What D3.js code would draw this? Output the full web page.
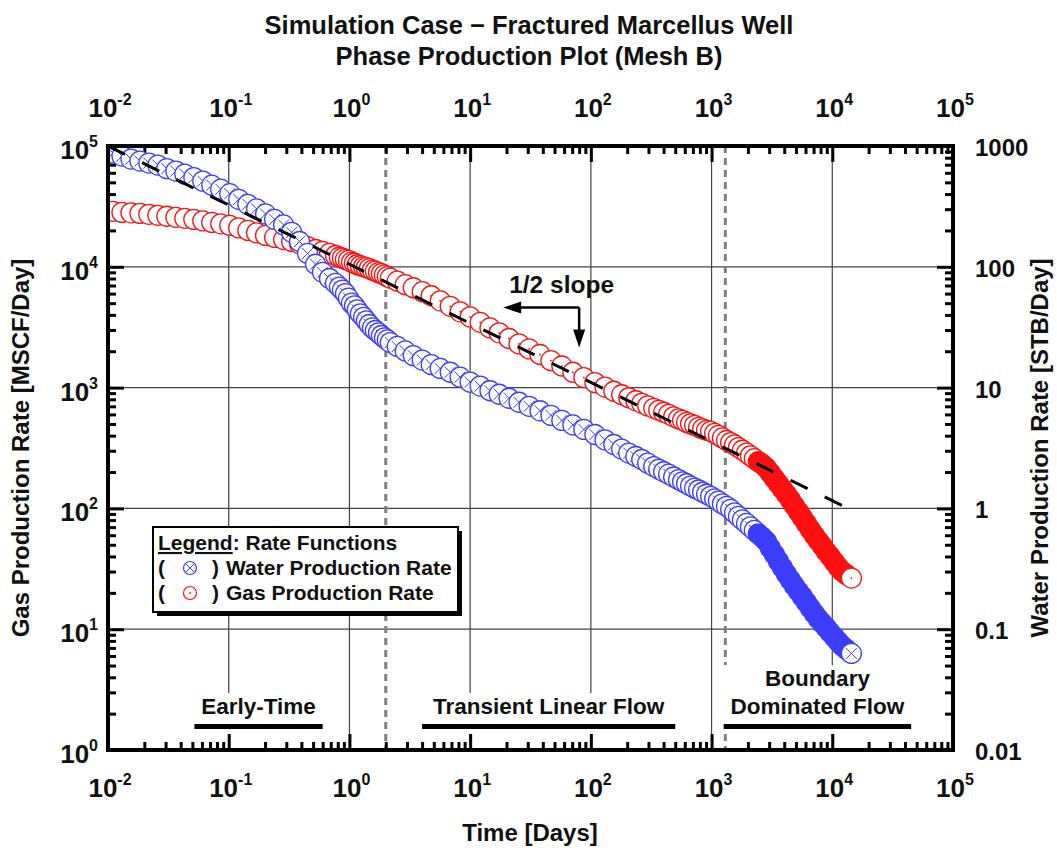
<!DOCTYPE html>
<html>
<head>
<meta charset="utf-8">
<script src="https://cdn.jsdelivr.net/npm/d3@7"></script>
<style>
body { margin:0; background:#fff; }
svg text { font-family: "Liberation Sans", Arial, sans-serif; font-weight: bold; fill:#111; }
.narrow { font-family: "Liberation Sans Narrow", "Arial Narrow", "Liberation Sans", sans-serif; }
</style>
</head>
<body>
<div id="chart"></div>
<script>

var titleLines = ["Simulation Case \u2212 Fractured Marcellus Well", "Phase Production Plot (Mesh B)"]

// time steps (days)
var timeDays = [0.0110, 0.01305, 0.0155, 0.0184, 0.0218, 0.0259, 0.0307, 0.0365, 0.0433, 0.0514, 0.0610, 0.0724, 0.0859, 0.102, 0.121, 0.144, 0.170, 0.202, 0.240, 0.285, 0.332, 0.386, 0.450, 0.524, 0.598, 0.684, 0.766,
	0.826, 0.875, 0.927, 0.982, 1.04, 1.10, 1.16, 1.23, 1.31, 1.38, 1.46, 1.55, 1.64, 1.74, 1.84, 1.95, 2.06, 2.18,
	2.49, 2.90, 3.38, 4.01, 4.76, 5.65, 6.84, 8.26, 10.0, 12.1, 14.6, 17.4, 21.0, 25.4, 30.8, 37.9, 46.7, 57.5, 71.0, 87.5,
	108, 131, 155, 180, 206, 236, 264, 296, 332, 365, 401, 441, 485, 533, 575, 621, 670, 724, 781, 843,
	910, 982, 1060, 1140, 1230, 1330, 1440, 1550, 1670, 1800, 1950, 2100, 2260, 2440, 2640, 2850, 3070, 3320, 3580, 3860,
	4170, 4500, 4850, 5240, 5650, 6100, 6580, 7100, 7660, 8260, 8910, 9620, 10400, 11200, 12100, 13100, 14400]

// gas rate, MSCF/Day (left axis)
var gasRate = [28800, 28200, 28000, 27700, 27200, 26700, 26200, 25700, 25200, 24700, 24000, 23300, 22700, 22000, 21000, 20000, 19100, 18200, 17500, 16800, 16200, 15500, 14700, 13900, 13400, 12900, 12400,
	12000, 11800, 11500, 11300, 10900, 10700, 10400, 10200, 10000, 9850, 9660, 9390, 9210, 8950, 8780, 8530, 8290, 8050,
	7600, 7110, 6710, 6220, 5760, 5230, 4710, 4240, 3850, 3470, 3120, 2840, 2550, 2300, 2090, 1880, 1670, 1510, 1340, 1210,
	1100, 1010, 933, 873, 824, 778, 741, 706, 674, 649, 625, 601, 573, 551, 536, 515, 501, 487, 469, 455,
	443, 434, 418, 402, 383, 365, 351, 335, 319, 303, 287, 272, 258, 244, 231, 216, 196, 177, 160, 145,
	131, 118, 105, 94, 84, 75, 67, 60, 54, 49, 44, 40, 36, 32.7, 30.0, 28.3, 26.5]

// water rate, STB/Day (right axis)
var waterRate = [875, 826, 780, 750, 722, 695, 650, 620, 585, 547, 512, 474, 439, 403, 362, 329, 302, 274, 247, 222, 193, 162, 129, 105, 90, 80, 73,
	68, 64, 60, 55, 50, 47.5, 44, 40.8, 38.2, 35.7, 33.3, 31.2, 29.7, 28.4, 27.0, 25.8, 24.8, 23.6,
	21.9, 20.1, 18.4, 16.9, 15.5, 14.4, 13.4, 12.2, 11.1, 10.3, 9.42, 8.81, 8.16, 7.56, 7.00, 6.43, 5.89, 5.35, 4.91, 4.51,
	4.09, 3.69, 3.38, 3.10, 2.87, 2.69, 2.54, 2.37, 2.22, 2.11, 2.01, 1.92, 1.82, 1.73, 1.66, 1.60, 1.53, 1.47, 1.42, 1.36,
	1.31, 1.26, 1.20, 1.15, 1.09, 1.04, 0.98, 0.918, 0.859, 0.803, 0.751, 0.703, 0.658, 0.615, 0.575, 0.532, 0.470, 0.415, 0.366, 0.324,
	0.286, 0.255, 0.229, 0.206, 0.186, 0.167, 0.150, 0.135, 0.122, 0.112, 0.103, 0.094, 0.086, 0.079, 0.0726, 0.0679, 0.0630]

var timeExp = [-2, -1, 0, 1, 2, 3, 4, 5]
var gasExp = [0, 1, 2, 3, 4, 5]
var waterTicks = [0.01, 0.1, 1, 10, 100, 1000]
var waterLabels = ["0.01", "0.1", "1", "10", "100", "1000"]

var halfSlope = [[0.01, 100000], [15000, 95]]
var regimeBounds = [2.0, 1300]
var regimes = [
	{name: ["Early-Time"], from: 0.052, to: 0.6},
	{name: ["Transient Linear Flow"], from: 4.0, to: 500},
	{name: ["Boundary", "Dominated Flow"], from: 1260, to: 45000}
]
var slopeNote = {text: "1/2 slope", t: 80, rate: 4600}
var legendTitle = "Legend"
var legendSub = ": Rate Functions"
var legendItems = ["Water Production Rate", "Gas Production Rate"]

var width = 1057, height = 851
var plotL = 108, plotR = 953, plotT = 146, plotB = 750
var RED = "#ff1010", BLUE = "#3d3dff"
var tailFrom = 2300   // markers overlap into a solid band here

var x = d3.scaleLog().domain([1e-2, 1e5]).range([plotL, plotR])
var yGas = d3.scaleLog().domain([1, 1e5]).range([plotB, plotT])
var yWater = d3.scaleLog().domain([0.01, 1000]).range([plotB, plotT])

var svg = d3.select("#chart").append("svg")
	.attr("width", width)
	.attr("height", height)

svg.append("defs").append("clipPath").attr("id", "plotclip")
	.append("rect").attr("x", plotL).attr("y", plotT)
	.attr("width", plotR - plotL).attr("height", plotB - plotT)

function decades(lo, hi) { return d3.range(lo, hi + 1).map(function(e) { return Math.pow(10, e) }) }
function minors(lo, hi) {
	var out = []
	for (var e = lo; e < hi; e++) for (var m = 2; m < 10; m++) out.push(m * Math.pow(10, e))
	return out
}

// grid
var grid = svg.append("g").attr("stroke", "#444").attr("stroke-width", 1.2)
grid.selectAll(".vg").data(decades(-1, 4)).enter().append("line")
	.attr("x1", function(d) { return x(d) }).attr("x2", function(d) { return x(d) })
	.attr("y1", plotT).attr("y2", plotB)
grid.selectAll(".hg").data(decades(1, 4)).enter().append("line")
	.attr("y1", function(d) { return yGas(d) }).attr("y2", function(d) { return yGas(d) })
	.attr("x1", plotL).attr("x2", plotR)

// flow regime boundaries
svg.append("g").selectAll("line").data(regimeBounds).enter().append("line")
	.attr("x1", function(d) { return x(d) }).attr("x2", function(d) { return x(d) })
	.attr("y1", plotT).attr("y2", plotB)
	.attr("stroke", "#808080").attr("stroke-width", 3).attr("stroke-dasharray", "7,5")

// ticks (inward on every side)
function styleAxis(g) {
	g.select(".domain").remove()
	g.selectAll(".tick line").attr("stroke", "#000").attr("stroke-width", 3)
	g.selectAll(".tick text").remove()
}
svg.append("g").attr("transform", "translate(0," + plotB + ")").call(d3.axisBottom(x).tickValues(decades(-2, 5)).tickSize(-16)).call(styleAxis)
svg.append("g").attr("transform", "translate(0," + plotB + ")").call(d3.axisBottom(x).tickValues(minors(-2, 5)).tickSize(-8)).call(styleAxis)
svg.append("g").attr("transform", "translate(0," + plotT + ")").call(d3.axisTop(x).tickValues(decades(-2, 5)).tickSize(-16)).call(styleAxis)
svg.append("g").attr("transform", "translate(0," + plotT + ")").call(d3.axisTop(x).tickValues(minors(-2, 5)).tickSize(-8)).call(styleAxis)
svg.append("g").attr("transform", "translate(" + plotL + ",0)").call(d3.axisLeft(yGas).tickValues(decades(0, 5)).tickSize(-16)).call(styleAxis)
svg.append("g").attr("transform", "translate(" + plotL + ",0)").call(d3.axisLeft(yGas).tickValues(minors(0, 5)).tickSize(-8)).call(styleAxis)
svg.append("g").attr("transform", "translate(" + plotR + ",0)").call(d3.axisRight(yWater).tickValues(waterTicks).tickSize(-16)).call(styleAxis)
svg.append("g").attr("transform", "translate(" + plotR + ",0)").call(d3.axisRight(yWater).tickValues(minors(-2, 3)).tickSize(-8)).call(styleAxis)

// half slope reference line
var line = d3.line().x(function(d) { return x(d[0]) }).y(function(d) { return yGas(d[1]) })

// data
var gasPts = timeDays.map(function(t, i) { return {t: t, v: gasRate[i], last: i == timeDays.length - 1} })
var waterPts = timeDays.map(function(t, i) { return {t: t, v: waterRate[i], last: i == timeDays.length - 1} })
var R = 10

var plot = svg.append("g").attr("clip-path", "url(#plotclip)")

var gm = plot.append("g").selectAll("g").data(gasPts).enter().append("g")
	.attr("transform", function(d) { return "translate(" + x(d.t) + "," + yGas(d.v) + ")" })
gm.append("circle").attr("r", R)
	.attr("fill", function(d) { return (d.t >= tailFrom && !d.last) ? RED : "#fff" })
	.attr("stroke", RED).attr("stroke-width", 1.3)
gm.append("circle").attr("r", 0.9).attr("fill", RED)

var wm = plot.append("g").selectAll("g").data(waterPts).enter().append("g")
	.attr("transform", function(d) { return "translate(" + x(d.t) + "," + yWater(d.v) + ")" })
wm.append("circle").attr("r", R)
	.attr("fill", function(d) { return (d.t >= tailFrom && !d.last) ? BLUE : "#fff" })
	.attr("stroke", BLUE).attr("stroke-width", 1.3)
wm.append("path").attr("d", "M-5.5,-5.5L5.5,5.5M-5.5,5.5L5.5,-5.5").attr("stroke", BLUE).attr("stroke-width", 1)

plot.append("path").datum(halfSlope).attr("d", line)
	.attr("fill", "none").attr("stroke", "#000").attr("stroke-width", 3).attr("stroke-dasharray", "19,19")

// frame
svg.append("rect").attr("x", plotL).attr("y", plotT)
	.attr("width", plotR - plotL).attr("height", plotB - plotT)
	.attr("fill", "none").attr("stroke", "#000").attr("stroke-width", 4)

// tick labels
function powLabel(g, e, efs, edy) {
	g.append("tspan").text("10")
	g.append("tspan").attr("dy", edy).attr("font-size", efs).text(e)
}
svg.append("g").selectAll("text").data(timeExp).enter().append("text")
	.attr("class", "narrow").attr("x", function(d) { return x(Math.pow(10, d)) + 2 }).attr("y", 797)
	.attr("text-anchor", "middle").attr("font-size", 26)
	.each(function(d) { powLabel(d3.select(this), d, 16, -12) })
svg.append("g").selectAll("text").data(timeExp).enter().append("text")
	.attr("class", "narrow").attr("x", function(d) { return x(Math.pow(10, d)) + 2 }).attr("y", 117)
	.attr("text-anchor", "middle").attr("font-size", 26)
	.each(function(d) { powLabel(d3.select(this), d, 16, -12) })
svg.append("g").selectAll("text").data(gasExp).enter().append("text")
	.attr("class", "narrow").attr("x", 98).attr("y", function(d) { return yGas(Math.pow(10, d)) + 13 })
	.attr("text-anchor", "end").attr("font-size", 26)
	.each(function(d) { powLabel(d3.select(this), d, 16, -12) })
svg.append("g").selectAll("text").data(waterTicks).enter().append("text")
	.attr("x", 975).attr("y", function(d) { return yWater(d) + 10 })
	.attr("font-size", 24)
	.text(function(d, i) { return waterLabels[i] })

// titles
svg.append("g").selectAll("text").data(titleLines).enter().append("text")
	.attr("x", 529).attr("y", function(d, i) { return 34 + i * 31 })
	.attr("text-anchor", "middle").attr("font-size", 25.5).text(function(d) { return d })
svg.append("text").attr("x", 530).attr("y", 841).attr("text-anchor", "middle")
	.attr("font-size", 24).text("Time [Days]")
svg.append("text").attr("transform", "translate(29," + ((plotT + plotB) / 2) + ") rotate(-90)")
	.attr("text-anchor", "middle").attr("font-size", 24).text("Gas Production Rate [MSCF/Day]")
svg.append("text").attr("transform", "translate(1048," + ((plotT + plotB) / 2) + ") rotate(-90)")
	.attr("text-anchor", "middle").attr("font-size", 24).text("Water Production Rate [STB/Day]")

// flow regime labels
var rg = svg.append("g").selectAll("g").data(regimes).enter().append("g")
rg.each(function(d) {
	var g = d3.select(this)
	var cx = (x(d.from) + x(d.to)) / 2
	var n = d.name.length
	var bg = g.append("rect").attr("fill", "#fff")
	g.selectAll("text").data(d.name).enter().append("text")
		.attr("x", cx).attr("y", function(s, i) { return 714 - (n - 1 - i) * 28 })
		.attr("text-anchor", "middle").attr("font-size", 22.5).text(function(s) { return s })
	var topY = 714 - (n - 1) * 28 - 21
	bg.attr("x", x(d.from) - 4).attr("y", topY).attr("width", x(d.to) - x(d.from) + 8).attr("height", 734 - topY)
	g.append("rect").attr("x", x(d.from)).attr("y", 724).attr("width", x(d.to) - x(d.from)).attr("height", 5).attr("fill", "#000")
})

// 1/2 slope note
var nx = x(slopeNote.t), ny = yGas(slopeNote.rate)
svg.append("text").attr("x", nx - 70).attr("y", ny - 15).attr("font-size", 24.5).text(slopeNote.text)
svg.append("path").attr("d", "M" + nx + "," + ny + "H" + (nx - 60) + "M" + nx + "," + ny + "V" + (ny + 24))
	.attr("stroke", "#000").attr("stroke-width", 2.5).attr("fill", "none")
svg.append("path").attr("d", "M" + (nx - 76) + "," + ny + "L" + (nx - 58) + "," + (ny - 6) + "L" + (nx - 58) + "," + (ny + 6) + "Z")
	.attr("fill", "#000")
svg.append("path").attr("d", "M" + nx + "," + (ny + 40) + "L" + (nx - 6) + "," + (ny + 22) + "L" + (nx + 6) + "," + (ny + 22) + "Z")
	.attr("fill", "#000")

// legend
var lg = svg.append("g").attr("transform", "translate(153,527)")
lg.append("rect").attr("x", 4).attr("y", 4).attr("width", 305).attr("height", 85).attr("fill", "#000")
lg.append("rect").attr("width", 305).attr("height", 85).attr("fill", "#fff").attr("stroke", "#000").attr("stroke-width", 2)
var lt = lg.append("text").attr("x", 5).attr("y", 23).attr("font-size", 21)
lt.append("tspan").attr("text-decoration", "underline").text(legendTitle)
lt.append("tspan").text(legendSub)
legendItems.forEach(function(name, i) {
	var yy = 48 + i * 25
	lg.append("text").attr("x", 5).attr("y", yy).attr("font-size", 21).text("(")
	lg.append("text").attr("x", 59).attr("y", yy).attr("font-size", 21).text(")")
	lg.append("text").attr("x", 73).attr("y", yy).attr("font-size", 21).text(name)
	var c = i == 0 ? BLUE : RED
	var m = lg.append("g").attr("transform", "translate(37," + (yy - 7) + ")")
	m.append("circle").attr("r", 6.5).attr("fill", "#fff").attr("stroke", c).attr("stroke-width", 1.2)
	if (i == 0) m.append("path").attr("d", "M-4,-4L4,4M-4,4L4,-4").attr("stroke", c).attr("stroke-width", 1)
	else m.append("circle").attr("r", 0.9).attr("fill", c)
})

</script>
</body>
</html>
